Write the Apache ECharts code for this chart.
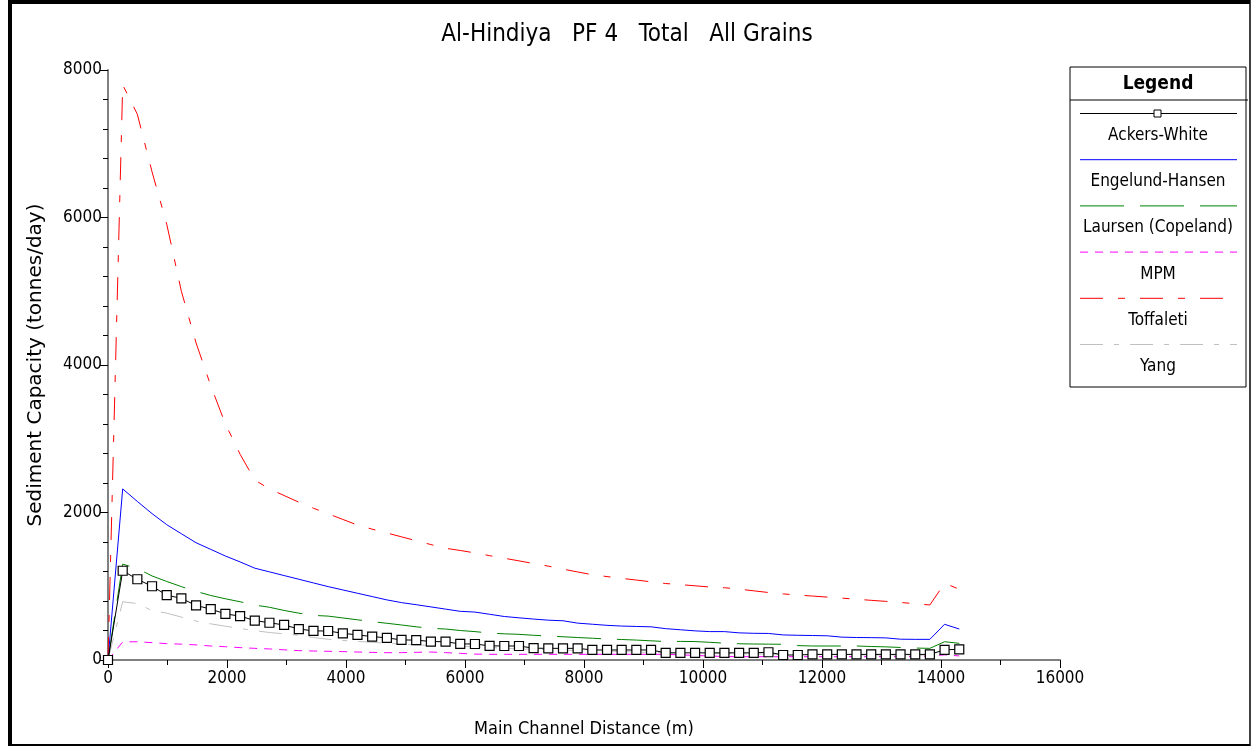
<!DOCTYPE html>
<html>
<head>
<meta charset="utf-8">
<script src="https://cdn.jsdelivr.net/npm/echarts@6/dist/echarts.min.js"></script>
<style>
html,body{margin:0;padding:0;background:#fff;}
#chart{width:1254px;height:748px;}
</style>
</head>
<body>
<div id="chart"></div>
<script>
// ---------- DATA ----------
var titleText = 'Al-Hindiya   PF 4   Total   All Grains';
var xAxisName = 'Main Channel Distance (m)';
var yAxisName = 'Sediment Capacity (tonnes/day)';
var seriesNames = ['Ackers-White', 'Engelund-Hansen', 'Laursen (Copeland)', 'MPM', 'Toffaleti', 'Yang'];

var distance = [0, 247, 493, 740, 987, 1233, 1480, 1727, 1973, 2220,
  2467, 2713, 2960, 3207, 3453, 3700, 3947, 4193, 4440, 4687,
  4933, 5180, 5427, 5673, 5920, 6167, 6413, 6660, 6907, 7153,
  7400, 7647, 7893, 8140, 8387, 8633, 8880, 9127, 9373, 9620,
  9867, 10113, 10360, 10607, 10853, 11100, 11347, 11593, 11840, 12087,
  12333, 12580, 12827, 13073, 13320, 13567, 13813, 14060, 14307];

var ackersWhite = [0, 1210, 1095, 1000, 880, 835, 740, 690, 625, 595,
  535, 505, 475, 420, 395, 393, 362, 340, 318, 300,
  272, 270, 250, 248, 218, 217, 192, 190, 190, 160,
  158, 158, 158, 136, 136, 136, 136, 136, 97, 97,
  97, 97, 97, 97, 97, 105, 68, 68, 76, 76,
  76, 76, 76, 76, 76, 76, 76, 138, 145];

var engelundHansen = [0, 2320, 2150, 1985, 1835, 1712, 1590, 1500, 1410, 1330,
  1245, 1195, 1145, 1095, 1045, 995, 950, 905, 860, 815,
  778, 750, 720, 690, 660, 650, 620, 590, 572, 555,
  540, 532, 500, 485, 470, 460, 455, 450, 425, 410,
  395, 385, 385, 368, 362, 360, 340, 335, 332, 328,
  310, 305, 303, 300, 282, 280, 280, 484, 420];

var laursen = [0, 1300, 1240, 1140, 1065, 995, 930, 875, 830, 790,
  745, 715, 672, 635, 605, 595, 570, 545, 520, 498,
  475, 450, 430, 420, 400, 385, 365, 355, 348, 335,
  325, 315, 305, 295, 285, 278, 270, 260, 250, 252,
  250, 240, 228, 220, 217, 215, 213, 195, 190, 190,
  190, 190, 183, 178, 170, 162, 158, 248, 226];

var mpm = [0, 245, 248, 235, 222, 215, 205, 190, 180, 168,
  158, 150, 138, 127, 122, 118, 114, 108, 103, 99,
  100, 104, 108, 100, 90, 80, 77, 77, 77, 77,
  77, 77, 77, 77, 77, 77, 77, 77, 77, 70,
  62, 54, 47, 45, 45, 45, 45, 45, 45, 45,
  45, 45, 45, 45, 45, 45, 55, 70, 55];

var toffaleti = [0, 7800, 7400, 6620, 5910, 5000, 4300, 3720, 3200, 2790,
  2440, 2320, 2230, 2140, 2058, 1982, 1906, 1830, 1774, 1722,
  1670, 1618, 1565, 1515, 1485, 1452, 1415, 1380, 1344, 1308,
  1273, 1232, 1194, 1156, 1131, 1107, 1084, 1060, 1037, 1022,
  1006, 990, 980, 961, 938, 915, 896, 881, 867, 853,
  839, 824, 809, 795, 780, 763, 746, 1040, 960];

var yang = [0, 790, 765, 670, 635, 582, 528, 490, 458, 428,
  398, 373, 354, 335, 305, 281, 265, 252, 240, 227,
  215, 205, 198, 192, 185, 178, 170, 160, 150, 145,
  140, 135, 128, 124, 120, 115, 108, 103, 98, 95,
  92, 90, 88, 85, 82, 80, 78, 76, 75, 74,
  72, 70, 70, 68, 68, 68, 66, 115, 110];

// ---------- STYLES ----------
var FONT = "'Liberation Sans Narrow', 'DejaVu Sans Condensed', 'Liberation Sans', Arial, sans-serif";
var seriesValues = [ackersWhite, engelundHansen, laursen, mpm, toffaleti, yang];
var seriesColors = ['#000000', '#0000ff', '#008000', '#ff00ff', '#ff0000', '#c0c0c0'];
var seriesDash = ['solid', 'solid', [44, 16], [8, 7], [23, 15, 7, 15], [23, 11, 5, 11]];

function zip(vals) {
  return distance.map(function (d, i) { return [d, vals[i]]; });
}

var drawOrder = [5, 3, 2, 1, 4, 0];
var series = drawOrder.map(function (k) {
  var s = {
    name: seriesNames[k],
    type: 'line',
    data: zip(seriesValues[k]),
    lineStyle: { color: seriesColors[k], width: 1, type: seriesDash[k] },
    itemStyle: { color: seriesColors[k] },
    symbol: 'none',
    z: 2 + drawOrder.indexOf(k),
    emphasis: { disabled: true },
    silent: true
  };
  if (k === 0) {
    s.symbol = 'rect';
    s.symbolSize = 9;
    s.showAllSymbol = true;
    s.itemStyle = { color: '#ffffff', borderColor: '#000000', borderWidth: 1.2 };
  }
  return s;
});

// ---------- LEGEND (graphic box) + frame ----------
var graphics = [];
graphics.push({ type: 'line', shape: { x1: 10, y1: 2, x2: 1250, y2: 2 }, style: { stroke: '#000', lineWidth: 4 } });
graphics.push({ type: 'line', shape: { x1: 10, y1: 0, x2: 10, y2: 746 }, style: { stroke: '#000', lineWidth: 4 } });
graphics.push({ type: 'line', shape: { x1: 1250, y1: 0, x2: 1250, y2: 746 }, style: { stroke: '#000', lineWidth: 1.5 } });
graphics.push({ type: 'line', shape: { x1: 10, y1: 745, x2: 1250, y2: 745 }, style: { stroke: '#000', lineWidth: 2 } });

var LX = 1070, LY = 67, LW = 176, LH = 320;
graphics.push({ type: 'rect', shape: { x: LX, y: LY, width: LW, height: LH }, style: { fill: '#fff', stroke: '#000', lineWidth: 1 }, z: 10 });
graphics.push({ type: 'text', x: LX + LW / 2, y: 84, style: { text: 'Legend', font: 'bold 19px ' + FONT, fill: '#000', align: 'center', verticalAlign: 'middle' }, z: 11 });
graphics.push({ type: 'line', shape: { x1: LX, y1: 100, x2: LX + LW + 2, y2: 100 }, style: { stroke: '#000', lineWidth: 1 }, z: 11 });
seriesNames.forEach(function (nm, i) {
  var ly = 113.5 + i * 46.2;
  var dash = seriesDash[i] === 'solid' ? null : seriesDash[i];
  graphics.push({ type: 'line', shape: { x1: 1080, y1: ly, x2: 1237, y2: ly }, style: { stroke: seriesColors[i], lineWidth: 1, lineDash: dash }, z: 11 });
  if (i === 0) {
    graphics.push({ type: 'rect', shape: { x: 1154, y: ly - 3.5, width: 7, height: 7 }, style: { fill: '#fff', stroke: '#000', lineWidth: 1 }, z: 12 });
  }
  graphics.push({ type: 'text', x: 1158, y: ly + 22, style: { text: nm, font: '17px ' + FONT, fill: '#000', align: 'center', verticalAlign: 'middle' }, z: 11 });
});

var chart = echarts.init(document.getElementById('chart'), null, { renderer: 'canvas' });
chart.setOption({
  animation: false,
  backgroundColor: '#ffffff',
  title: {
    text: titleText,
    left: 'center',
    top: 18,
    textStyle: { fontFamily: FONT, fontSize: 24, fontWeight: 'normal', color: '#000' }
  },
  grid: { left: 108, right: 194, top: 70, bottom: 88, containLabel: false },
  xAxis: {
    type: 'value', min: 0, max: 16000, interval: 2000,
    name: xAxisName, nameLocation: 'middle', nameGap: 60,
    nameTextStyle: { fontFamily: FONT, fontSize: 18, color: '#000' },
    axisLine: { lineStyle: { color: '#808080', width: 2 } },
    axisTick: { length: 8, lineStyle: { color: '#000' } },
    minorTick: { show: true, splitNumber: 2, length: 5, lineStyle: { color: '#000' } },
    splitLine: { show: false },
    axisLabel: { fontFamily: FONT, fontSize: 17, color: '#000', margin: 10, formatter: function (v) { return String(v); } }
  },
  yAxis: {
    type: 'value', min: 0, max: 8000, interval: 2000,
    name: yAxisName, nameLocation: 'middle', nameGap: 62,
    nameTextStyle: { fontFamily: "'DejaVu Sans', sans-serif", fontSize: 20, color: '#000' },
    axisLine: { lineStyle: { color: '#808080', width: 2 } },
    axisTick: { length: 8, lineStyle: { color: '#000' } },
    minorTick: { show: true, splitNumber: 5, length: 5, lineStyle: { color: '#000' } },
    splitLine: { show: false },
    axisLabel: { fontFamily: FONT, fontSize: 17, color: '#000', margin: 6, formatter: function (v) { return String(v); } }
  },
  graphic: graphics,
  series: series
});
</script>
</body>
</html>
